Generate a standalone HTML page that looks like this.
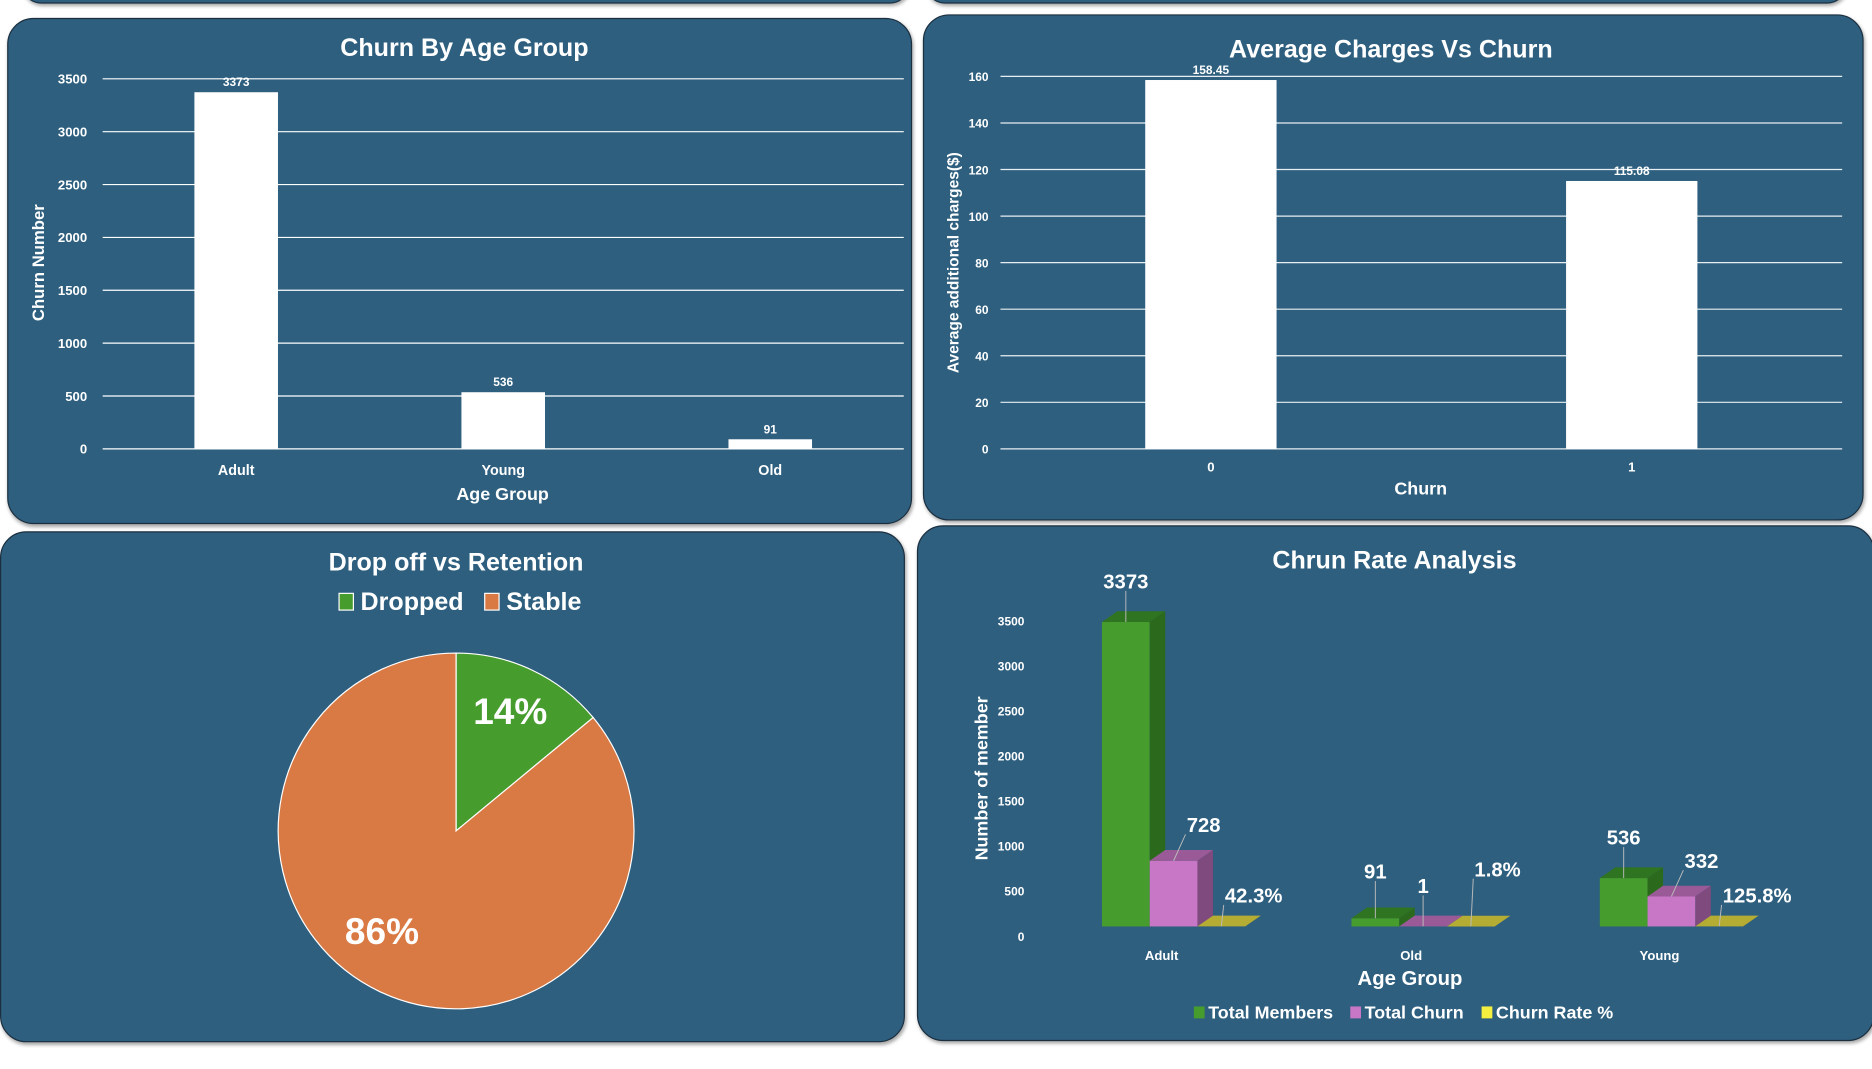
<!DOCTYPE html>
<html><head><meta charset="utf-8">
<style>
html,body{margin:0;padding:0;background:#fff;width:1872px;height:1068px;overflow:hidden}
#stage{position:absolute;left:0;top:0;width:1568px;height:895px;transform:scale(1.19388);transform-origin:0 0;font-family:"Liberation Sans Narrow","Liberation Sans",sans-serif;}
.panel{position:absolute;background:#2e5f7f;border:1.5px solid #1b2f3f;border-radius:22px;box-shadow:1px 2px 3px rgba(0,0,0,.35)}
svg{position:absolute;left:0;top:0;overflow:visible}
text{font-family:"Liberation Sans Narrow","Liberation Sans",sans-serif;fill:#fff;font-weight:bold}
</style></head><body>
<div id="stage">
<div class="panel" style="left:18px;top:-30px;width:742px;height:31px"></div>
<div class="panel" style="left:775px;top:-30px;width:770px;height:31px"></div>
<div class="panel" style="left:6px;top:15px;width:756px;height:422px"></div>
<div class="panel" style="left:773px;top:12px;width:786px;height:422px"></div>
<div class="panel" style="left:0px;top:445px;width:756px;height:426px"></div>
<div class="panel" style="left:768px;top:440px;width:800px;height:430px"></div>
<svg id="chart" width="1568" height="895"></svg>
</div>
<script>
// Chart 1
const c1Cats=["Adult","Young","Old"];
const c1Vals=[3373,536,91];
const c1Ticks=[0,500,1000,1500,2000,2500,3000,3500];
// Chart 2
const c2Cats=["0","1"];
const c2Vals=[158.45,115.08];
const c2Ticks=[0,20,40,60,80,100,120,140,160];
// Pie
const pieCats=["Dropped","Stable"];
const pieVals=[14,86];
const pieColors=["#479c2e","#d97943"];
// Chart 4
const c4Cats=["Adult","Old","Young"];
const c4Members=[3373,91,536];
const c4Churn=[728,1,332];
const c4Rate=[42.3,1.8,125.8];
const c4Ticks=[0,500,1000,1500,2000,2500,3000,3500];
const c4Series=["Total Members","Total Churn","Churn Rate %"];

const svg=document.getElementById('chart');
const NS='http://www.w3.org/2000/svg';
function el(tag,attrs,txt){const e=document.createElementNS(NS,tag);for(const k in attrs)e.setAttribute(k,attrs[k]);if(txt!==undefined)e.textContent=txt;svg.appendChild(e);return e;}

// ---- Chart 1
{
const x0=86,x1=757,y0=376,yTop=66,max=3500;
const y=v=>y0-(v/max)*(y0-yTop);
const band=(x1-x0)/c1Cats.length;
const cx=i=>x0+band*(i+0.5);
let t=el('text',{x:389,y:47,'font-size':21,'text-anchor':'middle'},'Churn By Age Group');

c1Ticks.forEach(v=>{
 let l=el('line',{x1:x0,x2:x1,y1:y(v),y2:y(v),stroke:'#fff','stroke-width':1});
 
 let tt=el('text',{x:73,y:y(v)+4,'font-size':11,'text-anchor':'end'},v);
 
});
c1Vals.forEach((v,i)=>{
 let r=el('rect',{x:cx(i)-35,y:y(v),width:70,height:y0-y(v),fill:'#fff'});
 
 let lb=el('text',{x:cx(i),y:y(v)-5,'font-size':10,'text-anchor':'middle'},v);
 
 let xl=el('text',{x:cx(i),y:398,'font-size':12,'text-anchor':'middle'},c1Cats[i]);
 
});
let xt=el('text',{x:421,y:419,'font-size':15,'text-anchor':'middle'},'Age Group');

let yt=el('text',{x:0,y:0,'font-size':14,'text-anchor':'middle',transform:'translate(37,220) rotate(-90)','font-family':'Liberation Sans'},'Churn Number');

}

// ---- Chart 2
{
const x0=838,x1=1543,y0=376,yTop=64,max=160;
const y=v=>y0-(v/max)*(y0-yTop);
const band=(x1-x0)/c2Cats.length;
const cx=i=>x0+band*(i+0.5);
let t=el('text',{x:1165,y:48,'font-size':21,'text-anchor':'middle'},'Average Charges Vs Churn');

c2Ticks.forEach(v=>{
 let l=el('line',{x1:x0,x2:x1,y1:y(v),y2:y(v),stroke:'#e8eef2','stroke-width':1});
 
 let tt=el('text',{x:828,y:y(v)+4,'font-size':10,'text-anchor':'end'},v);
 
});
c2Vals.forEach((v,i)=>{
 let r=el('rect',{x:cx(i)-55,y:y(v),width:110,height:y0-y(v),fill:'#fff'});
 
 let lb=el('text',{x:cx(i),y:y(v)-5,'font-size':10,'text-anchor':'middle'},v.toFixed(2));
 
 let xl=el('text',{x:cx(i),y:395,'font-size':11,'text-anchor':'middle'},c2Cats[i]);
 
});
let xt=el('text',{x:1190,y:414,'font-size':15,'text-anchor':'middle'},'Churn');

let yt=el('text',{x:0,y:0,'font-size':13,'text-anchor':'middle',transform:'translate(803,220) rotate(-90)','font-family':'Liberation Sans'},'Average additional charges($)');

}

// ---- Pie
{
const cx=382,cy=696,r=149;
let t=el('text',{x:382,y:478,'font-size':21,'text-anchor':'middle'},'Drop off vs Retention');

const lx=[284,406];
pieCats.forEach((c,i)=>{
 let s=el('rect',{x:lx[i],y:497,width:12,height:14,fill:pieColors[i],stroke:'#fff','stroke-width':1});
 
 let lt=el('text',{x:lx[i]+18,y:511,'font-size':21},c);
 
});
const total=pieVals.reduce((a,b)=>a+b,0);
let a=-Math.PI/2;
pieVals.forEach((v,i)=>{
 const sweep=v/total*2*Math.PI;const a2=a+sweep;
 const p1=[cx+r*Math.cos(a),cy+r*Math.sin(a)],p2=[cx+r*Math.cos(a2),cy+r*Math.sin(a2)];
 let p=el('path',{d:`M${cx},${cy} L${p1[0]},${p1[1]} A${r},${r} 0 ${sweep>Math.PI?1:0} 1 ${p2[0]},${p2[1]} Z`,fill:pieColors[i],stroke:'#fff','stroke-width':1});
 
 const mid=a+sweep/2;const lr=i===0?0.7:0.6;
 let lb=el('text',{x:cx+lr*r*Math.cos(mid)+(i===0?1:-24),y:cy+lr*r*Math.sin(mid)+(i===0?5:14),'font-size':31,'text-anchor':'middle'},v+'%');
 
 a=a2;
});
}

// ---- Chart 4
{
const base=776,max=3500,span=264.6;
const h=v=>(v/max)*span;
const groupX=[923,1132,1340];const bw=40,dx=13,dy=-9;
const colors=[['#479c2e','#2f7420','#2b6a1d'],['#c876c6','#9a5a98','#7f4a7e'],['#c9c03a','#b4ac33','#9f982c']];
let t=el('text',{x:1168,y:476,'font-size':21,'text-anchor':'middle'},'Chrun Rate Analysis');

c4Ticks.forEach(v=>{
 let tt=el('text',{x:858,y:785-v/max*264+3,'font-size':10,'text-anchor':'end'},v);
 
});
function bar3d(x,v,col,name){
 const hh=h(v);const yt=base-hh;
 let f=el('rect',{x:x,y:yt,width:bw,height:hh,fill:col[0]});
 
 let tp=el('polygon',{points:`${x},${yt} ${x+dx},${yt+dy} ${x+bw+dx},${yt+dy} ${x+bw},${yt}`,fill:col[1]});
 
 let sd=el('polygon',{points:`${x+bw},${yt} ${x+bw+dx},${yt+dy} ${x+bw+dx},${base+dy} ${x+bw},${base}`,fill:col[2]});
 
 return yt;
}
function label(x1,y1,x2,y2,txt,anchor){
 let l=el('line',{x1:x1,y1:y1,x2:x2,y2:y2,stroke:'#bbb','stroke-width':0.8});
 
 let tt=el('text',{x:x2+(anchor==='start'?1:0),y:y2-2,'font-size':17,'font-weight':'normal','text-anchor':anchor},txt);
 
}
c4Cats.forEach((c,i)=>{
 const gx=groupX[i];
 const y1=bar3d(gx,c4Members[i],colors[0],'chart4-bar-members-'+c.toLowerCase());
 const y2=bar3d(gx+bw,c4Churn[i],colors[1],'chart4-bar-churn-'+c.toLowerCase());
 // churn rate plotted as a fraction (value/100) on the member axis -> nearly flat
 const y3=bar3d(gx+2*bw,c4Rate[i]/100,colors[2],'chart4-bar-rate-'+c.toLowerCase());
 label(gx+bw/2,y1,gx+bw/2,Math.min(y1-26,base-38),c4Members[i],'middle');
 label(gx+1.5*bw,y2,gx+1.5*bw+(i===1?0:10),Math.min(y2-22,base-26),c4Churn[i],i===1?'middle':'start');
 label(gx+2.5*bw,y3,gx+2.5*bw+2,base-(i===1?40:18),c4Rate[i]+'%','start');
 let xl=el('text',{x:gx+1.25*bw,y:804,'font-size':11,'font-weight':'normal','text-anchor':'middle'},c);
 
});
let xt=el('text',{x:1181,y:825,'font-size':17,'text-anchor':'middle'},'Age Group');

let yt=el('text',{x:0,y:0,'font-size':15,'text-anchor':'middle',transform:'translate(827,652) rotate(-90)','font-family':'Liberation Sans'},'Number of member');

const legX=[1000,1131,1241];const legCol=['#479c2e','#c876c6','#f5f040'];
c4Series.forEach((s,i)=>{
 let r=el('rect',{x:legX[i],y:843,width:9,height:10,fill:legCol[i]});
 
 let lt=el('text',{x:legX[i]+12,y:853,'font-size':15,'font-weight':'normal'},s);
 
});
}
</script>
</body></html>
